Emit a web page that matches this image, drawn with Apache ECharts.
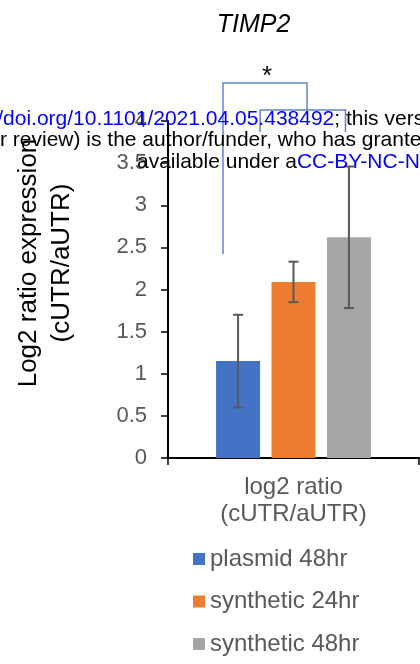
<!DOCTYPE html>
<html><head><meta charset="utf-8">
<script src="https://cdn.jsdelivr.net/npm/echarts@6/dist/echarts.min.js"></script>
<style>html,body{margin:0;padding:0;background:#fff}#c{width:420px;height:664px}</style>
</head><body><div id="c"></div>
<script>
// ---- data ----
const categories = ['log2 ratio\n(cUTR/aUTR)'];
const seriesNames = ['plasmid 48hr', 'synthetic 24hr', 'synthetic 48hr'];
const plasmid48 = [1.15];
const synthetic24 = [2.09];
const synthetic48 = [2.62];
const errPlasmid48 = [0.55];
const errSynthetic24 = [0.24];
const errSynthetic48 = [0.84];
const yMin = 0, yMax = 4, yStep = 0.5;
// significance bracket levels (y values)
const bracketOuter = [2.42, 4.45, 4.13]; // left foot, top, right foot
const bracketInner = [4.13, 3.87];       // bar, feet
const sigLabel = '*';

// ---- styles ----
const FONT = '"Liberation Sans", Arial, sans-serif';
const COLORS = ['#4472C4', '#ED7D31', '#A5A5A5'];
const BAR_W = 44, GAP_RATIO = 0.26;
const GREY = '#595959';

const valueSets = [plasmid48, synthetic24, synthetic48];
const errSets = [errPlasmid48, errSynthetic24, errSynthetic48];
const errData = [];
valueSets.forEach((vals, si) => vals.forEach((v, ci) => errData.push([ci, si, v, errSets[si][ci]])));

const chart = echarts.init(document.getElementById('c'), null, {renderer: 'canvas'});

function errRender(params, api) {
  const ci = api.value(0), si = api.value(1), v = api.value(2), e = api.value(3);
  const off = (si - 1) * BAR_W * (1 + GAP_RATIO);
  const x = api.coord([ci, v])[0] + off;
  const yt = api.coord([ci, v + e])[1];
  const yb = api.coord([ci, v - e])[1];
  const cap = 5;
  const st = {stroke: GREY, lineWidth: 2};
  return {type: 'group', children: [
    {type: 'line', shape: {x1: x, y1: yt, x2: x, y2: yb}, style: st},
    {type: 'line', shape: {x1: x - cap, y1: yt, x2: x + cap, y2: yt}, style: st},
    {type: 'line', shape: {x1: x - cap, y1: yb, x2: x + cap, y2: yb}, style: st}
  ]};
}

function bracketRender(params, api) {
  const xc = api.coord([0, 0])[0];
  const band = api.size([1, 0])[0];
  const y = v => api.coord([0, v])[1];
  const L = xc - 0.281 * band, R = xc + 0.054 * band;
  const iL = xc - 0.133 * band, iR = xc + 0.207 * band;
  const st = {stroke: '#5B86CF', lineWidth: 1.5, fill: null};
  return {type: 'group', children: [
    {type: 'polyline', shape: {points: [[L, y(bracketOuter[0])], [L, y(bracketOuter[1])], [R, y(bracketOuter[1])], [R, y(bracketOuter[2])]]}, style: st},
    {type: 'polyline', shape: {points: [[iL, y(bracketInner[1])], [iL, y(bracketInner[0])], [iR, y(bracketInner[0])], [iR, y(bracketInner[1])]]}, style: st},
    {type: 'text', x: (L + R) / 2 + 2, y: y(bracketOuter[1]) - 6, style: {text: sigLabel, font: '26px ' + FONT, fill: '#000', align: 'center', verticalAlign: 'middle'}}
  ]};
}

const barSeries = seriesNames.map((n, i) => ({
  name: n, type: 'bar', data: valueSets[i], barWidth: BAR_W, barGap: (GAP_RATIO * 100) + '%',
  itemStyle: {color: COLORS[i]}, z: 2
}));

chart.setOption({
  animation: false,
  textStyle: {fontFamily: FONT},
  grid: {left: 168, right: 1, top: 121, bottom: 206},
  graphic: [
    {type: 'text', x: 253.5, y: 25, style: {text: 'TIMP2', font: 'italic 25px ' + FONT, fill: '#000', align: 'center', verticalAlign: 'middle'}},
    {type: 'text', x: 28.5, y: 263, rotation: Math.PI / 2, style: {text: 'Log2 ratio expression', font: '26px ' + FONT, fill: '#000', align: 'center', verticalAlign: 'middle'}},
    {type: 'text', x: 61.5, y: 263, rotation: Math.PI / 2, style: {text: '(cUTR/aUTR)', font: '26px ' + FONT, fill: '#000', align: 'center', verticalAlign: 'middle'}},
    {type: 'text', x: -60, y: 119, z: 200, style: {text: '{b|https://doi.org/10.1101/2021.04.05.438492}{k|; this version posted April 6, 2021.}', font: '21px ' + FONT, verticalAlign: 'middle',
      rich: {b: {fill: '#0000FF', font: '21px ' + FONT}, k: {fill: '#000', font: '21px ' + FONT}}}},
    {type: 'text', x: 0, y: 140, z: 200, style: {text: 'r review) is the author/funder, who has granted bioRxiv a license', font: '21px ' + FONT, fill: '#000', verticalAlign: 'middle'}},
    {type: 'text', x: 137, y: 162, z: 200, style: {text: '{k|available under a}{b|CC-BY-NC-ND 4.0 International license}', font: '21px ' + FONT, verticalAlign: 'middle',
      rich: {b: {fill: '#0000FF', font: '21px ' + FONT}, k: {fill: '#000', font: '21px ' + FONT}}}}
  ],
  legend: {
    orient: 'vertical', left: 188, top: 542, itemWidth: 12, itemHeight: 12, itemGap: 18.5, icon: 'rect',
    data: seriesNames, textStyle: {fontSize: 24, color: GREY, fontFamily: FONT}
  },
  xAxis: {
    type: 'category', data: categories,
    axisLine: {lineStyle: {color: '#000', width: 2}},
    axisTick: {show: true, length: 7, lineStyle: {color: '#000', width: 1.5}},
    axisLabel: {fontSize: 24, color: GREY, lineHeight: 27, margin: 16, fontFamily: FONT}
  },
  yAxis: {
    type: 'value', min: yMin, max: yMax, interval: yStep,
    axisLine: {show: true, lineStyle: {color: '#000', width: 2}},
    axisTick: {show: true, length: 7, lineStyle: {color: '#000', width: 1.5}},
    splitLine: {show: false},
    axisLabel: {fontSize: 22, color: GREY, margin: 21, fontFamily: FONT}
  },
  series: barSeries.concat([
    {type: 'custom', name: 'err', renderItem: errRender, data: errData, encode: {x: 0, y: 2}, z: 5, silent: true},
    {type: 'custom', name: 'sig', renderItem: bracketRender, data: [[0, 0]], encode: {x: 0, y: 1}, clip: false, z: 6, silent: true}
  ])
});
</script></body></html>
